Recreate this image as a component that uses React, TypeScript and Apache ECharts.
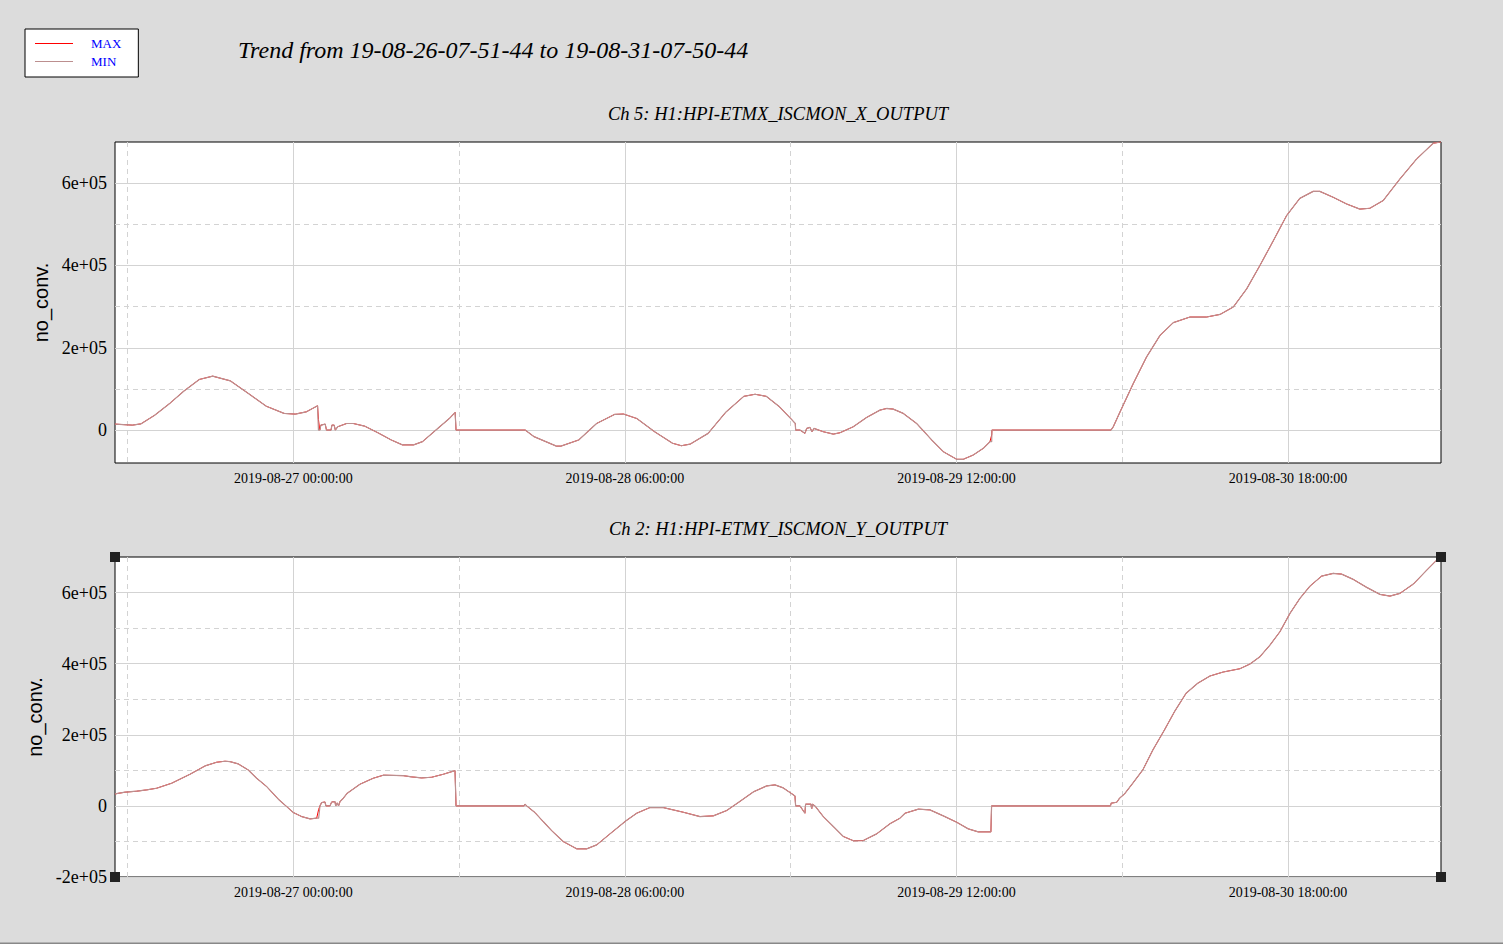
import React, { useEffect, useRef } from 'react';
import * as echarts from 'echarts';

// time axis in hours since 2019-08-26 00:00:00
const START_H = 7 + 51 / 60 + 44 / 3600;
const END_H = 120 + 7 + 50 / 60 + 44 / 3600;

const X_LABEL_HOURS = [24, 54, 84, 114];
const X_MINOR_HOURS = [9, 39, 69, 99];

const TOP_Y_MIN = -80000;
const TOP_Y_MAX = 700000;
const TOP_Y_MAJOR = [0, 200000, 400000, 600000];
const TOP_Y_MINOR = [100000, 300000, 500000];

const BOT_Y_MIN = -200000;
const BOT_Y_MAX = 700000;
const BOT_Y_MAJOR = [-200000, 0, 200000, 400000, 600000];
const BOT_Y_MINOR = [-100000, 100000, 300000, 500000];

const TITLE = 'Trend from 19-08-26-07-51-44 to 19-08-31-07-50-44';
const TOP_TITLE = 'Ch 5: H1:HPI-ETMX_ISCMON_X_OUTPUT';
const BOT_TITLE = 'Ch 2: H1:HPI-ETMY_ISCMON_Y_OUTPUT';
const Y_NAME = 'no_conv.';
const LEGEND_NAMES = ['MAX', 'MIN'];

const TOP_T = [
  7.86, 9.43, 10.2, 11.45, 12.87, 14.08, 15.49, 16.7, 18.31, 19.93,
  21.55, 23.16, 24.17, 25.18, 26.19, 26.27, 26.39, 26.49, 26.88, 27.0,
  27.41, 27.49, 27.69, 27.8, 28.01, 28.82, 29.42, 30.44, 31.65, 32.86,
  33.87, 34.88, 35.69, 36.9, 38.11, 38.64, 38.72, 44.98, 45.78, 47.8,
  48.21, 49.82, 51.44, 53.06, 53.87, 55.08, 56.69, 58.31, 59.11, 59.92,
  61.53, 63.15, 64.76, 65.78, 66.79, 67.99, 69.01, 69.42, 69.45, 69.84,
  70.29, 70.45, 70.75, 70.93, 71.11, 71.95, 72.86, 73.46, 74.66, 75.87,
  77.08, 77.68, 78.28, 79.19, 80.4, 81.76, 82.81, 84.02, 84.62, 85.52,
  86.43, 87.03, 87.19, 87.21, 97.98, 98.19, 98.8, 100.0, 101.21, 102.42,
  103.62, 105.13, 106.64, 107.85, 109.05, 110.26, 111.46, 112.67, 113.87, 115.07,
  116.28, 116.88, 118.09, 119.3, 120.5, 121.41, 122.61, 124.12, 125.63, 127.14,
  127.84,
];
const TOP_MAX = [
  14500, 12000, 15000, 36000, 66000, 94500, 123000, 131000, 119500, 89000,
  58000, 40500, 38800, 44400, 59000, 26000, 0, 12000, 14500, 0,
  0, 12000, 12000, 0, 8000, 16000, 16000, 9700, -6500, -24000,
  -36000, -36000, -28000, 0, 28000, 43000, 0, 0, -16000, -39000,
  -39000, -24000, 16000, 38000, 39000, 28000, -4000, -32000, -38000, -34000,
  -8000, 44000, 82000, 87000, 82000, 56500, 28000, 16000, 0, 0,
  -8000, 4000, 6500, -4000, 4000, -4000, -9700, -6500, 8000, 30700,
  48500, 52500, 51000, 40500, 16000, -24000, -52500, -71000, -71000, -60600,
  -44400, -28300, -12000, 0, 0, 8000, 44000, 113000, 178000, 230000,
  261000, 274700, 274700, 281000, 299000, 343000, 400000, 460000, 521000, 563000,
  580000, 580000, 565600, 549500, 537000, 539000, 557600, 610000, 658500, 697000,
  700000,
];
const TOP_MIN = [
  14500, 12000, 15000, 36000, 66000, 94500, 123000, 131000, 119500, 89000,
  58000, 40500, 38800, 44400, 59000, 0, 0, 12000, 14500, 0,
  0, 12000, 12000, 0, 8000, 16000, 16000, 9700, -6500, -24000,
  -36000, -36000, -28000, 0, 28000, 43000, 0, 0, -16000, -39000,
  -39000, -24000, 16000, 38000, 39000, 28000, -4000, -32000, -38000, -34000,
  -8000, 44000, 82000, 87000, 82000, 56500, 28000, 16000, 0, 0,
  -8000, 4000, 6500, -4000, 4000, -4000, -9700, -6500, 8000, 30700,
  48500, 52500, 51000, 40500, 16000, -24000, -52500, -71000, -71000, -60600,
  -44400, -28300, -28300, 0, 0, 8000, 44000, 113000, 178000, 230000,
  261000, 274700, 274700, 281000, 299000, 343000, 400000, 460000, 521000, 563000,
  580000, 580000, 565600, 549500, 537000, 539000, 557600, 610000, 658500, 697000,
  700000,
];

const BOT_T = [
  7.86, 8.77, 9.83, 10.73, 11.63, 12.99, 14.65, 16.01, 17.06, 17.81,
  18.27, 19.02, 19.92, 20.68, 21.59, 22.64, 23.4, 24.0, 24.75, 25.51,
  26.11, 26.29, 26.41, 26.56, 26.86, 26.95, 27.31, 27.47, 27.77, 27.83,
  27.98, 28.09, 28.22, 28.52, 28.88, 30.03, 31.23, 32.14, 33.95, 34.71,
  35.61, 36.52, 37.57, 38.63, 38.72, 44.87, 44.96, 45.11, 45.86, 46.61,
  47.37, 48.42, 49.64, 50.54, 51.45, 52.65, 54.1, 55.07, 56.27, 57.47,
  59.28, 60.79, 62.0, 63.21, 64.26, 65.62, 66.83, 67.58, 68.33, 69.39,
  69.45, 69.84, 70.29, 70.35, 70.84, 70.9, 70.97, 71.2, 71.95, 72.86,
  73.76, 74.67, 75.57, 76.78, 77.99, 78.89, 79.35, 80.55, 81.6, 82.81,
  84.02, 85.07, 85.97, 87.12, 87.18, 97.94, 98.0, 98.51, 98.76, 99.21,
  99.96, 100.86, 101.77, 102.82, 103.73, 104.78, 105.83, 106.94, 108.14, 109.65,
  110.56, 111.46, 112.37, 113.27, 114.18, 115.08, 115.99, 117.04, 118.09, 118.85,
  119.91, 121.12, 122.32, 123.23, 124.13, 125.34, 126.56, 127.61, 127.84,
];
const BOT_MAX = [
  33700, 38500, 41300, 45000, 49700, 63800, 89000, 112400, 122800, 125600,
  124500, 118000, 101000, 77800, 54200, 18800, -2000, -18800, -30000, -36500,
  -34600, -10000, 0, 9300, 11000, 0, 0, 11000, 12000, 0,
  8400, 0, 12000, 21600, 35600, 61000, 77800, 86300, 85000, 81500,
  78700, 80600, 89000, 99200, 0, 0, 4800, 0, -18800, -44000,
  -69400, -100300, -120800, -120800, -109600, -78700, -42000, -20600, -4700, -4700,
  -17800, -30000, -28000, -13100, 9300, 39300, 56200, 59000, 50600, 28100,
  0, 0, -20600, 4800, 4800, -8400, 4800, 0, -30000, -58000,
  -86000, -98000, -97500, -78700, -50000, -34600, -20600, -9300, -11200, -28100,
  -45900, -64600, -73000, -73000, 0, 0, 7600, 10300, 21600, 33700,
  63800, 101000, 157000, 213500, 265000, 316700, 344800, 365300, 376500, 385800,
  399000, 419500, 452400, 489800, 541500, 583600, 618100, 646200, 653900, 651900,
  637000, 614600, 594900, 590100, 597700, 623800, 663200, 696000, 700000,
];
const BOT_MIN = [
  33700, 38500, 41300, 45000, 49700, 63800, 89000, 112400, 122800, 125600,
  124500, 118000, 101000, 77800, 54200, 18800, -2000, -18800, -30000, -36500,
  -34600, -34600, 0, 9300, 11000, 0, 0, 11000, 12000, 0,
  8400, 0, 12000, 21600, 35600, 61000, 77800, 86300, 85000, 81500,
  78700, 80600, 89000, 99200, 0, 0, 4800, 0, -18800, -44000,
  -69400, -100300, -120800, -120800, -109600, -78700, -42000, -20600, -4700, -4700,
  -17800, -30000, -28000, -13100, 9300, 39300, 56200, 59000, 50600, 28100,
  0, 0, -20600, 4800, 4800, -8400, 4800, 0, -30000, -58000,
  -86000, -98000, -97500, -78700, -50000, -34600, -20600, -9300, -11200, -28100,
  -45900, -64600, -73000, -73000, 0, 0, 7600, 10300, 21600, 33700,
  63800, 101000, 157000, 213500, 265000, 316700, 344800, 365300, 376500, 385800,
  399000, 419500, 452400, 489800, 541500, 583600, 618100, 646200, 653900, 651900,
  637000, 614600, 594900, 590100, 597700, 623800, 663200, 696000, 700000,
];

const MAX_COLOR = '#ff0000';
const MIN_COLOR = '#bc8f8f';
const GRID_COLOR = '#d3d3d3';
const BG = '#dcdcdc';
const SERIF = '"Liberation Serif", "Times New Roman", serif';
const SANS = '"Liberation Sans", Arial, sans-serif';

function fmtHour(h: number): string {
  const d = Math.floor(h / 24 + 1e-9);
  const hh = Math.round(h - d * 24);
  const day = 26 + d;
  return `2019-08-${String(day).padStart(2, '0')} ${String(hh).padStart(2, '0')}:00:00`;
}

function fmtSci(v: number): string {
  if (v === 0) return '0';
  const [m, e] = v.toExponential().split('e');
  const sign = e[0] === '-' ? '-' : '+';
  const ex = e.replace(/[+-]/, '').padStart(2, '0');
  return `${m}e${sign}${ex}`;
}

function pairs(t: number[], v: number[]) {
  return t.map((x, i) => [x, v[i]]);
}

const GRIDS = [
  { left: 115, top: 142, width: 1326, height: 321 },
  { left: 115, top: 557, width: 1326, height: 320 },
];

function makeXAxes(gridIndex: number) {
  const common = {
    type: 'value',
    gridIndex,
    min: START_H,
    max: END_H,
    position: 'bottom',
    axisLine: { show: false },
  };
  return [
    {
      ...common,
      axisTick: { show: false, customValues: X_MINOR_HOURS },
      axisLabel: { show: false, customValues: X_MINOR_HOURS },
      splitLine: { show: true, lineStyle: { color: GRID_COLOR, width: 1, type: [5, 4] } },
    },
    {
      ...common,
      axisTick: { show: false, customValues: X_LABEL_HOURS },
      axisLabel: {
        show: true,
        customValues: X_LABEL_HOURS,
        formatter: (v: number) => fmtHour(v),
        color: '#000',
        fontFamily: SERIF,
        fontSize: 14,
        margin: 8,
      },
      splitLine: { show: true, lineStyle: { color: GRID_COLOR, width: 1 } },
    },
  ];
}

function makeYAxes(gridIndex: number, min: number, max: number, major: number[], minor: number[], nameGap: number) {
  const common = {
    type: 'value',
    gridIndex,
    min,
    max,
    position: 'left',
    axisLine: { show: false },
  };
  return [
    {
      ...common,
      axisTick: { show: false, customValues: minor },
      axisLabel: { show: false, customValues: minor },
      splitLine: { show: true, lineStyle: { color: GRID_COLOR, width: 1, type: [5, 4] } },
    },
    {
      ...common,
      name: Y_NAME,
      nameLocation: 'middle',
      nameGap,
      nameTextStyle: { color: '#000', fontFamily: SANS, fontSize: 20 },
      axisTick: { show: false, customValues: major },
      axisLabel: {
        show: true,
        customValues: major,
        formatter: (v: number) => fmtSci(v),
        color: '#000',
        fontFamily: SERIF,
        fontSize: 18,
        margin: 8,
      },
      splitLine: { show: true, lineStyle: { color: GRID_COLOR, width: 1 } },
    },
  ];
}

function lineSeries(name: string, color: string, width: number, xi: number, yi: number, data: number[][]) {
  return {
    type: 'line',
    name,
    xAxisIndex: xi,
    yAxisIndex: yi,
    data,
    symbol: 'none',
    silent: true,
    lineStyle: { color, width },
    itemStyle: { color },
  };
}

function cornerSquares() {
  const g = GRIDS[1];
  const pts = [
    [g.left, g.top],
    [g.left + g.width, g.top],
    [g.left, g.top + g.height],
    [g.left + g.width, g.top + g.height],
  ];
  return pts.map(([x, y]) => ({
    type: 'rect',
    z: 100,
    shape: { x: x - 5, y: y - 5, width: 10, height: 10 },
    style: { fill: '#222' },
    silent: true,
  }));
}

export default function App() {
  const ref = useRef<HTMLDivElement>(null);
  useEffect(() => {
    if (!ref.current) return;
    const chart = echarts.init(ref.current, undefined, { renderer: 'svg' });
    const option = {
      animation: false,
      backgroundColor: BG,
      legend: {
        data: LEGEND_NAMES,
        orient: 'vertical',
        left: 25,
        top: 29,
        backgroundColor: '#fff',
        borderColor: '#000',
        borderWidth: 1,
        borderRadius: 0,
        padding: [7, 17, 8, 10],
        icon: 'rect',
        itemWidth: 38,
        itemHeight: 1,
        itemGap: 3,
        selectedMode: false,
        textStyle: {
          color: '#0000ff',
          fontFamily: SERIF,
          fontSize: 13,
          lineHeight: 15,
          padding: [0, 0, 0, 13],
        },
      },
      grid: GRIDS.map((g) => ({
        ...g,
        show: true,
        backgroundColor: '#fff',
        borderColor: '#000',
        borderWidth: 1,
        containLabel: false,
      })),
      xAxis: [...makeXAxes(0), ...makeXAxes(1)],
      yAxis: [
        ...makeYAxes(0, TOP_Y_MIN, TOP_Y_MAX, TOP_Y_MAJOR, TOP_Y_MINOR, 63),
        ...makeYAxes(1, BOT_Y_MIN, BOT_Y_MAX, BOT_Y_MAJOR, BOT_Y_MINOR, 67),
      ],
      series: [
        lineSeries('MAX', MAX_COLOR, 1, 1, 1, pairs(TOP_T, TOP_MAX)),
        lineSeries('MIN', MIN_COLOR, 1.2, 1, 1, pairs(TOP_T, TOP_MIN)),
        lineSeries('MAX', MAX_COLOR, 1, 3, 3, pairs(BOT_T, BOT_MAX)),
        lineSeries('MIN', MIN_COLOR, 1.2, 3, 3, pairs(BOT_T, BOT_MIN)),
      ],
      graphic: [
        {
          type: 'text',
          x: 238,
          y: 50,
          style: {
            text: TITLE,
            font: `italic 24px ${SERIF}`,
            fill: '#000',
            textAlign: 'left',
            textVerticalAlign: 'middle',
          },
        },
        {
          type: 'text',
          x: GRIDS[0].left + GRIDS[0].width / 2,
          y: 114,
          style: {
            text: TOP_TITLE,
            font: `italic 18.5px ${SERIF}`,
            fill: '#000',
            textAlign: 'center',
            textVerticalAlign: 'middle',
          },
        },
        {
          type: 'text',
          x: GRIDS[1].left + GRIDS[1].width / 2,
          y: 529,
          style: {
            text: BOT_TITLE,
            font: `italic 18.5px ${SERIF}`,
            fill: '#000',
            textAlign: 'center',
            textVerticalAlign: 'middle',
          },
        },
        ...cornerSquares(),
        {
          type: 'rect',
          shape: { x: 0, y: 942.5, width: 1503, height: 1.5 },
          style: { fill: '#888' },
          silent: true,
        },
      ],
    };
    chart.setOption(option as any);
    return () => chart.dispose();
  }, []);
  return (
    <div
      ref={ref}
      style={{ position: 'fixed', left: 0, top: 0, width: 1503, height: 944, background: BG }}
    />
  );
}
